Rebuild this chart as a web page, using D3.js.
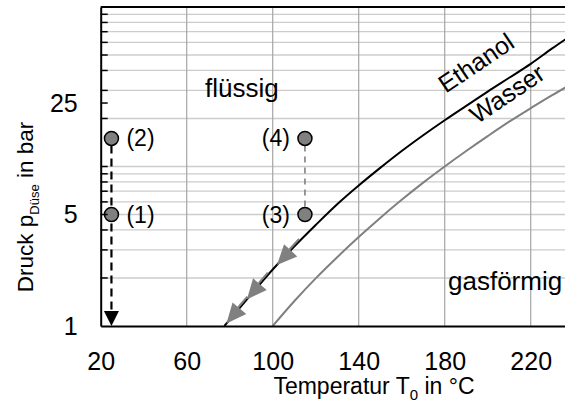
<!DOCTYPE html>
<html><head><meta charset="utf-8">
<script src="https://cdn.jsdelivr.net/npm/d3@7/dist/d3.min.js"></script>
<style>body{margin:0;background:#fff}svg{display:block;font-family:"Liberation Sans",Arial,sans-serif}</style>
</head><body>
<svg id="c" width="565" height="416"></svg>
<script>
// ---- data ----
const xTickValues = [20, 60, 100, 140, 180, 220];
const yTickLabels = [1, 5, 25];
const yMinorTicks = [2, 3, 4, 5, 6, 7, 8, 9, 10, 20, 25, 30, 40, 50, 60, 70, 80, 90];
const yGridValues = [2, 3, 4, 5, 6, 7, 8, 9, 10, 20, 30, 40, 50, 60, 70, 80, 90];
const xGridValues = [60, 100, 140, 180, 220];
const waterT = [100, 110, 120, 130, 140, 150, 160, 170, 180, 190, 200, 210, 220, 230, 240];
const waterP = [1.0, 1.43, 1.99, 2.70, 3.61, 4.76, 6.18, 7.92, 10.0, 12.5, 15.5, 19.1, 23.2, 28.0, 33.5];
const ethanolT = [77.5, 90, 100, 110, 120, 130, 140, 150, 160, 170, 180, 190, 200, 210, 220, 230, 240];
const ethanolP = [1.0, 1.58, 2.26, 3.15, 4.3, 5.8, 7.6, 9.8, 12.5, 15.7, 19.5, 24, 29.5, 36, 44, 55, 68];
const pointT = [25, 25, 115, 115];
const pointP = [5, 15, 5, 15];
const pointLabels = ["(1)", "(2)", "(3)", "(4)"];
const arrowT = [102, 88, 78.5];

// ---- scales ----
const svg = d3.select("#c");
const x = d3.scaleLinear().domain([20, 240]).range([100.7, 573.7]);
const y = d3.scaleLog().domain([1, 100]).range([326, 7]);

// grid
const g = svg.append("g");
g.selectAll(".hg").data(yGridValues).join("line")
  .attr("x1", x(20)).attr("x2", x(240)).attr("y1", d => y(d)).attr("y2", d => y(d))
  .attr("stroke", "#cccccc").attr("stroke-width", 1.3);
g.selectAll(".vg").data(xGridValues).join("line")
  .attr("x1", d => x(d)).attr("x2", d => x(d)).attr("y1", y(1)).attr("y2", y(100))
  .attr("stroke", "#a6a6a6").attr("stroke-width", 1.2);

// clip
svg.append("clipPath").attr("id", "clip").append("rect")
  .attr("x", x(20)).attr("y", y(100)).attr("width", x(240) - x(20)).attr("height", y(1) - y(100));

const line = d3.line().x(d => x(d[0])).y(d => y(d[1])).curve(d3.curveMonotoneX);
const water = waterT.map((t, i) => [t, waterP[i]]);
const ethanol = ethanolT.map((t, i) => [t, ethanolP[i]]);
const plot = svg.append("g").attr("clip-path", "url(#clip)");
plot.append("path").attr("d", line(water)).attr("fill", "none").attr("stroke", "#808080").attr("stroke-width", 2);
plot.append("path").attr("d", line(ethanol)).attr("fill", "none").attr("stroke", "#000").attr("stroke-width", 2);

// interpolate ethanol pressure (log space)
function ethP(t) {
  for (let i = 0; i < ethanolT.length - 1; i++) {
    if (t >= ethanolT[i] && t <= ethanolT[i + 1]) {
      const f = (t - ethanolT[i]) / (ethanolT[i + 1] - ethanolT[i]);
      return Math.exp(Math.log(ethanolP[i]) * (1 - f) + Math.log(ethanolP[i + 1]) * f);
    }
  }
  return ethanolP[0];
}
// grey arrows along ethanol curve
arrowT.forEach(t => {
  const tx = x(t), ty = y(ethP(t));
  const bx = x(t + 3), by = y(ethP(t + 3));
  let dx = tx - bx, dy = ty - by; const L = Math.hypot(dx, dy); dx /= L; dy /= L;
  const len = 20, hw = 9;
  const px = -dy, py = dx;
  const base = [tx - dx * len, ty - dy * len];
  svg.append("line").attr("x1", tx - dx * 34 + px * 1.5).attr("y1", ty - dy * 34 + py * 1.5).attr("x2", base[0] + px * 1.5).attr("y2", base[1] + py * 1.5)
    .attr("stroke", "#808080").attr("stroke-width", 2);
  svg.append("path").attr("d", `M${tx},${ty}L${base[0] + px * hw},${base[1] + py * hw}L${base[0] - px * hw},${base[1] - py * hw}Z`)
    .attr("fill", "#808080");
});

// dashed lines
svg.append("line").attr("x1", x(25)).attr("x2", x(25)).attr("y1", y(15) + 7).attr("y2", y(1) - 12)
  .attr("stroke", "#000").attr("stroke-width", 2.2).attr("stroke-dasharray", "8,5");
svg.append("path").attr("d", `M${x(25)},${y(1)}L${x(25) - 7.5},${y(1) - 15}L${x(25) + 7.5},${y(1) - 15}Z`).attr("fill", "#000");
svg.append("line").attr("x1", x(115)).attr("x2", x(115)).attr("y1", y(15) + 7).attr("y2", y(5) - 7)
  .attr("stroke", "#808080").attr("stroke-width", 1.6).attr("stroke-dasharray", "6,5");

// points
svg.selectAll(".pt").data(pointT).join("circle")
  .attr("cx", d => x(d)).attr("cy", (d, i) => y(pointP[i])).attr("r", 7)
  .attr("fill", "#808080").attr("stroke", "#000").attr("stroke-width", 1.5);
svg.selectAll(".pl").data(pointLabels).join("text")
  .attr("x", (d, i) => pointT[i] < 60 ? x(pointT[i]) + 15 : x(pointT[i]) - 15)
  .attr("y", (d, i) => y(pointP[i]) + 8)
  .attr("text-anchor", (d, i) => pointT[i] < 60 ? "start" : "end")
  .attr("font-size", 23).text(d => d);

// axes frame
svg.append("line").attr("x1", x(20)).attr("x2", x(240)).attr("y1", y(100)).attr("y2", y(100)).attr("stroke", "#000").attr("stroke-width", 2);
svg.append("line").attr("x1", x(240)).attr("x2", x(240)).attr("y1", y(100)).attr("y2", y(1)).attr("stroke", "#000").attr("stroke-width", 2);

const yAxis = d3.axisLeft(y).tickValues(yTickLabels).tickSize(0).tickPadding(23).tickFormat(d3.format("d"));
const ya = svg.append("g").attr("transform", `translate(${x(20)},0)`).call(yAxis);
ya.select(".domain").attr("stroke-width", 2);
ya.selectAll("text").attr("font-size", 25).attr("font-family", "Liberation Sans, Arial, sans-serif").attr("fill", "#000");
svg.selectAll(".ymt").data(yMinorTicks).join("line")
  .attr("x1", x(20)).attr("x2", x(20) + 7).attr("y1", d => y(d)).attr("y2", d => y(d))
  .attr("stroke", "#000").attr("stroke-width", 1.5);

const xAxis = d3.axisBottom(x).tickValues(xTickValues).tickSize(0).tickPadding(26).tickFormat(d3.format("d"));
const xa = svg.append("g").attr("transform", `translate(0,${y(1)})`).call(xAxis);
xa.select(".domain").attr("stroke-width", 2);
xa.selectAll("text").attr("font-size", 25).attr("font-family", "Liberation Sans, Arial, sans-serif").attr("fill", "#000");

// region labels
svg.append("text").attr("x", 205).attr("y", 97).attr("font-size", 26).text("flüssig");
svg.append("text").attr("x", 448).attr("y", 290).attr("font-size", 26).text("gasförmig");
svg.append("text").attr("transform", "translate(481,70) rotate(-34)").attr("text-anchor", "middle").attr("font-size", 25).text("Ethanol");
svg.append("text").attr("transform", "translate(512,101) rotate(-34)").attr("text-anchor", "middle").attr("font-size", 25).text("Wasser");

// axis titles
const xt = svg.append("text").attr("x", 374).attr("y", 394).attr("text-anchor", "middle").attr("font-size", 23);
xt.append("tspan").text("Temperatur T");
xt.append("tspan").attr("font-size", 15).attr("dy", 6).text("0");
xt.append("tspan").attr("dy", -6).text(" in °C");
const yt = svg.append("text").attr("transform", "translate(33,207) rotate(-90)").attr("text-anchor", "middle").attr("font-size", 22.5);
yt.append("tspan").text("Druck p");
yt.append("tspan").attr("font-size", 13).attr("dy", 6).text("Düse");
yt.append("tspan").attr("dy", -6).text(" in bar");
</script>
</body></html>
